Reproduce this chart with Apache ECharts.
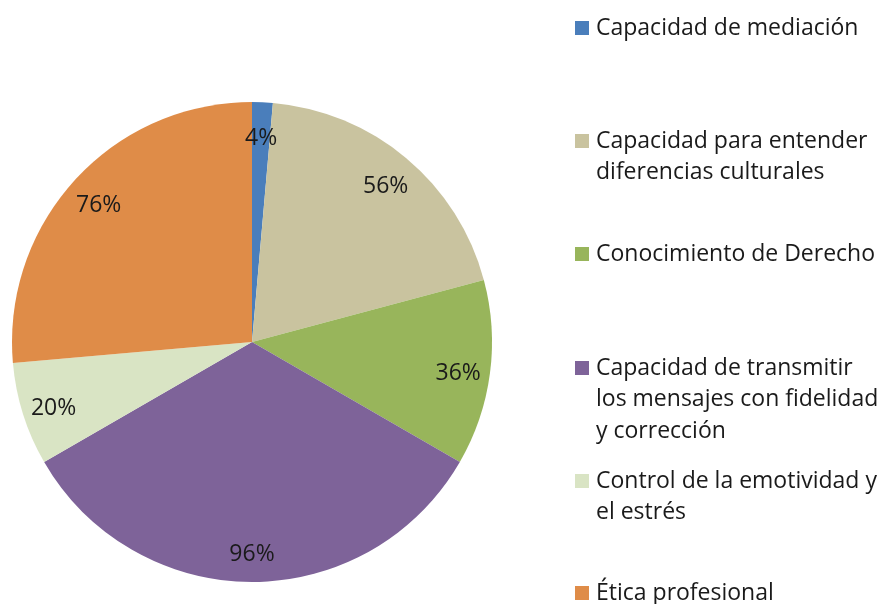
<!DOCTYPE html>
<html>
<head>
<meta charset="utf-8">
<script src="https://cdn.jsdelivr.net/npm/echarts@6/dist/echarts.min.js"></script>
<style>html,body{margin:0;padding:0;background:#fff}#c{width:884px;height:604px}</style>
</head>
<body>
<div id="c"></div>
<script>
const categories = [
  'Capacidad de mediación',
  'Capacidad para entender diferencias culturales',
  'Conocimiento de Derecho',
  'Capacidad de transmitir los mensajes con fidelidad y corrección',
  'Control de la emotividad y el estrés',
  'Ética profesional'
];
const legendLabels = [
  'Capacidad de mediación',
  'Capacidad para entender\ndiferencias culturales',
  'Conocimiento de Derecho',
  'Capacidad de transmitir\nlos mensajes con fidelidad\ny corrección',
  'Control de la emotividad y\nel estrés',
  'Ética profesional'
];
const values = [4, 56, 36, 96, 20, 76];
const colors = ['#4A7EBB', '#C9C39F', '#98B55B', '#7E6399', '#D9E4C4', '#DF8C48'];

const FONT = 'Open Sans';
const legendCenters = [28, 141, 254, 368, 481, 593];
const LH = 31.5;
const ICON = 14;

const legends = categories.map((name, i) => {
  const n = legendLabels[i].split('\n').length;
  const h = ICON + LH * (n - 1);
  const icon = n === 1 ? 'rect'
    : 'path://M0,0L' + ICON + ',0L' + ICON + ',' + ICON + 'L0,' + ICON + 'ZM7,' + h + 'L7.01,' + h;
  return {
    data: [name],
    orient: 'vertical',
    left: 575,
    top: legendCenters[i] - LH / 2,
    padding: 0,
    itemWidth: ICON,
    itemHeight: h,
    itemGap: 0,
    icon: icon,
    selectedMode: false,
    formatter: () => legendLabels[i],
    textStyle: {
      fontFamily: FONT,
      fontSize: 23,
      color: '#1a1a1a',
      lineHeight: LH,
      padding: [0, 0, 0, 2]
    }
  };
});

const pieData = categories.map((name, i) => ({ name, value: values[i], itemStyle: { color: colors[i] } }));

const chart = echarts.init(document.getElementById('c'));
chart.setOption({
  animation: false,
  backgroundColor: '#fff',
  legend: legends,
  series: [
    {
      type: 'pie',
      center: [252, 342],
      radius: [0, 240],
      startAngle: 90,
      clockwise: true,
      label: { show: false },
      labelLine: { show: false },
      itemStyle: { borderWidth: 0 },
      emphasis: { disabled: true },
      data: pieData
    },
    {
      type: 'pie',
      center: [252, 342],
      radius: [170, 240],
      startAngle: 90,
      clockwise: true,
      silent: true,
      legendHoverLink: false,
      itemStyle: { color: 'transparent', borderWidth: 0 },
      label: {
        show: true,
        position: 'inside',
        formatter: '{c}%',
        fontFamily: FONT,
        fontSize: 23,
        color: '#1a1a1a',
        offset: [0, 4]
      },
      labelLine: { show: false },
      emphasis: { disabled: true },
      data: categories.map((name, i) => ({ name, value: values[i] }))
    }
  ]
});
</script>
</body>
</html>
